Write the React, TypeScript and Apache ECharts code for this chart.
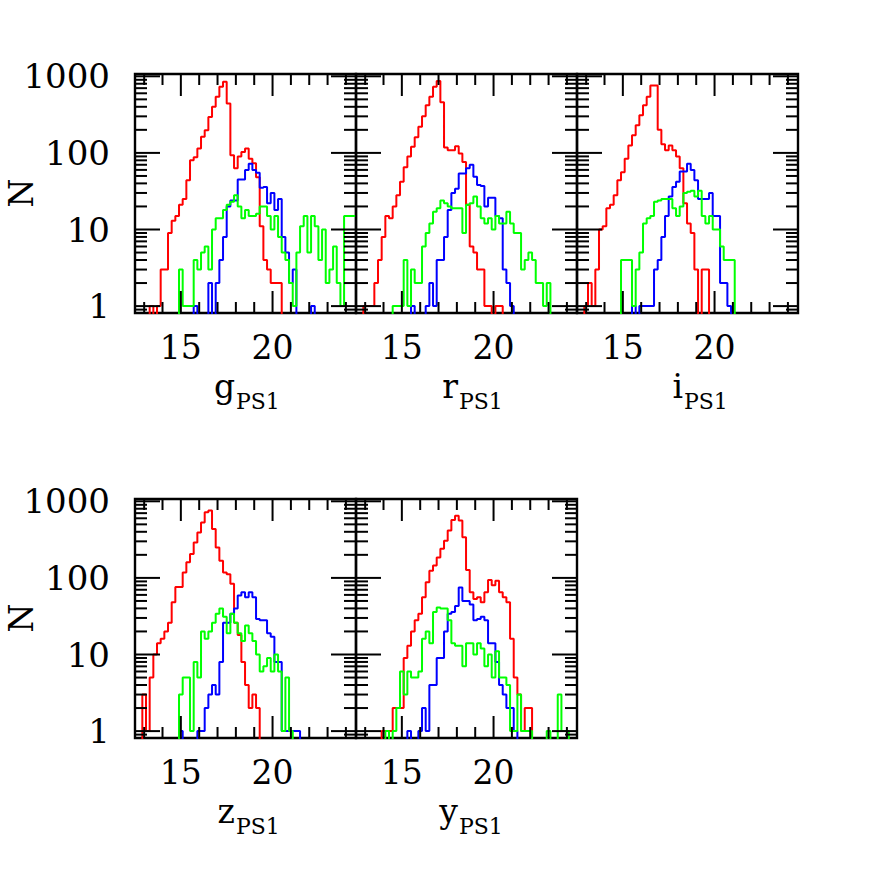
import React, { useEffect, useRef } from "react";
import * as echarts from "echarts";

// ---------------- axis settings ----------------
const X_MIN = 12.5;
const X_MAX = 24.55;
const BIN_WIDTH = 0.2;
const N_BINS = 60;
const LOG_MIN = -0.09;
const LOG_MAX = 3.03;

const X_TICK_LABELS = [15, 20];
const Y_TICK_LABELS = [1, 10, 100, 1000];

// ---------------- data: counts per 0.2 mag bin, starting at bin index *Start ----------------
// g_PS1
const gRedStart = 4;
const gRed = [1, 0, 1, 3, 3, 9, 13, 15, 21, 25, 44, 80, 88, 114, 162, 197, 295, 400, 540, 730, 850, 440, 93, 63, 90, 103, 114, 84, 73, 48, 11, 4, 3, 2, 2, 2];
const gBlueStart = 16;
const gBlue = [1, 0, 0, 0, 2, 0, 2, 4, 8, 20, 24, 24, 45, 45, 60, 72, 60, 55, 35, 36, 22, 30, 18, 25, 8, 5, 2, 3, 0, 0, 0, 0, 1];
const gGreenStart = 12;
const gGreen = [3, 1, 1, 1, 4, 3, 5, 6, 3, 10, 14, 14, 18, 21, 23, 28, 20, 14, 18, 15, 15, 16, 20, 20, 15, 10, 15, 8, 5, 4, 2, 1, 5, 11, 15, 5, 15, 11, 4, 10, 2, 3, 6, 2, 1, 15, 15, 15];

// r_PS1
const rRedStart = 2;
const rRed = [1, 1, 1, 2, 4, 8, 15, 14, 20, 28, 42, 65, 90, 120, 160, 220, 300, 420, 540, 730, 870, 460, 118, 108, 108, 122, 98, 76, 21, 6, 5, 3, 3, 1, 1, 0, 1, 1];
const rBlueStart = 15;
const rBlue = [1, 0, 0, 0, 1, 2, 1, 4, 4, 8, 18, 30, 34, 54, 54, 63, 70, 49, 38, 37, 20, 26, 26, 15, 14, 3, 2, 1];
const rGreenStart = 10;
const rGreen = [1, 1, 1, 4, 1, 3, 2, 2, 6, 9, 12, 17, 19, 24, 22, 20, 19, 19, 19, 9, 21, 22, 27, 20, 14, 12, 14, 10, 15, 12, 12, 17, 12, 9, 9, 3, 4, 5, 4, 2, 2, 1, 2];

// i_PS1
const iRedStart = 2;
const iRed = [1, 2, 1, 3, 10, 11, 19, 21, 28, 44, 56, 84, 125, 170, 230, 310, 420, 540, 760, 760, 200, 130, 108, 125, 108, 90, 63, 22, 12, 9, 3, 0, 3, 3];
const iBlueStart = 15;
const iBlue = [1, 0, 1, 1, 1, 1, 3, 4, 8, 15, 27, 36, 42, 57, 57, 72, 60, 44, 25, 25, 25, 30, 15, 15, 2, 2, 1];
const iGreenStart = 12;
const iGreen = [4, 4, 4, 1, 3, 5, 12, 14, 15, 23, 24, 25, 25, 25, 19, 15, 20, 30, 31, 32, 27, 32, 15, 12, 15, 10, 10, 6, 4, 4, 4];

// z_PS1
const zRedStart = 2;
const zRed = [3, 1, 5, 10, 14, 16, 20, 26, 48, 76, 76, 118, 160, 205, 290, 390, 530, 720, 760, 435, 250, 168, 118, 112, 84, 26, 18, 8, 4, 2, 3, 2];
const zBlueStart = 12;
const zBlue = [1, 0, 0, 0, 0, 1, 1, 2, 3, 4, 3, 8, 26, 26, 34, 40, 59, 65, 56, 65, 56, 29, 28, 28, 19, 17, 8, 8, 1, 1, 1, 1, 1];
const zGreenStart = 12;
const zGreen = [3, 5, 5, 1, 8, 5, 20, 16, 20, 26, 34, 40, 31, 19, 34, 26, 19, 15, 24, 19, 15, 10, 6, 7, 9, 6, 10, 6, 1, 5, 1];

// y_PS1
const yRedStart = 7;
const yRed = [1, 1, 1, 2, 2, 2, 9, 13, 20, 28, 34, 56, 88, 124, 145, 185, 240, 305, 415, 570, 650, 560, 340, 127, 65, 53, 56, 48, 65, 94, 80, 92, 65, 56, 48, 16, 5, 3, 1, 2, 2];
const yBlueStart = 14;
const yBlue = [1, 0, 0, 1, 2, 1, 4, 4, 9, 9, 20, 34, 36, 43, 75, 50, 50, 45, 28, 29, 31, 28, 14, 14, 8, 4, 3, 2, 2, 1];
const yGreenStart = 8;
const yGreen = [1, 0, 1, 2, 6, 3, 6, 5, 5, 6, 16, 20, 14, 36, 41, 40, 40, 28, 14, 13, 13, 7, 14, 14, 10, 14, 12, 7, 10, 5, 11, 5, 5, 4, 1, 1, 3, 1, 1, 1, 0, 0, 0, 0, 1, 0, 0, 3, 1, 1];

const BANDS = ["g", "r", "i", "z", "y"];
const SUBSCRIPT = "PS1";
const Y_NAME = "N";

const COLORS = { red: "#ff0000", blue: "#0000ff", green: "#00ff00" };

// ---------------- layout ----------------
const GRID_POS = [
  { left: 135, top: 74 },
  { left: 356, top: 74 },
  { left: 577, top: 74 },
  { left: 135, top: 499 },
  { left: 356, top: 499 },
];
const GRID_W = 221;
const GRID_H = 239;
const FONT = '"DejaVu Serif", serif';

function toLog(c: number) {
  return c > 0 ? Math.log10(c) : -1;
}

function histData(start: number, counts: number[]) {
  const full: number[] = new Array(N_BINS).fill(0);
  counts.forEach((c, i) => {
    if (start + i < N_BINS) full[start + i] = c;
  });
  const pts = full.map((c, k) => [X_MIN + k * BIN_WIDTH, toLog(c)]);
  pts.push([X_MIN + N_BINS * BIN_WIDTH, toLog(full[N_BINS - 1])]);
  return pts;
}

const PANELS = [
  { red: [gRedStart, gRed], blue: [gBlueStart, gBlue], green: [gGreenStart, gGreen] },
  { red: [rRedStart, rRed], blue: [rBlueStart, rBlue], green: [rGreenStart, rGreen] },
  { red: [iRedStart, iRed], blue: [iBlueStart, iBlue], green: [iGreenStart, iGreen] },
  { red: [zRedStart, zRed], blue: [zBlueStart, zBlue], green: [zGreenStart, zGreen] },
  { red: [yRedStart, yRed], blue: [yBlueStart, yBlue], green: [yGreenStart, yGreen] },
] as any[];

// tick marks (axis structure): [value, kind(0 = x, 1 = y), length]
function buildTicks() {
  const t: number[][] = [];
  for (let v = Math.ceil(X_MIN); v <= Math.floor(X_MAX); v++) t.push([v, 0, v % 5 === 0 ? 22 : 11]);
  for (let d = -1; d <= 3; d++) {
    for (let m = 1; m <= 9; m++) {
      const L = d + Math.log10(m);
      if (L > LOG_MIN && L < LOG_MAX) t.push([L, 1, m === 1 ? 25 : 12]);
    }
  }
  return t;
}

const TITLE_POS = [
  { x: 235, y: 403 },
  { x: 458, y: 403 },
  { x: 683, y: 403 },
  { x: 235, y: 828 },
  { x: 458, y: 828 },
];
const N_POS = [
  { x: 21, y: 193 },
  { x: 21, y: 618 },
];

export default function App() {
  const ref = useRef<HTMLDivElement>(null);
  useEffect(() => {
    if (!ref.current) return;
    const chart = echarts.init(ref.current, undefined, { renderer: "svg" });
    const ticks = buildTicks();

    const grid = GRID_POS.map((p) => ({
      left: p.left,
      top: p.top,
      width: GRID_W,
      height: GRID_H,
      show: true,
      borderColor: "#000",
      borderWidth: 2.4,
      backgroundColor: "transparent",
      containLabel: false,
    }));

    const xAxis = GRID_POS.map((_, i) => ({
      type: "value",
      gridIndex: i,
      min: X_MIN,
      max: X_MAX,
      axisLine: { show: false },
      axisTick: { show: false },
      splitLine: { show: false },
      axisLabel: {
        show: true,
        customValues: X_TICK_LABELS,
        color: "#000",
        fontFamily: FONT,
        fontSize: 33,
        margin: 18,
      },
    }));

    const yAxis = GRID_POS.map((_, i) => {
      const showLabels = i === 0 || i === 3;
      return {
        type: "value",
        gridIndex: i,
        min: LOG_MIN,
        max: LOG_MAX,
        axisLine: { show: false },
        axisTick: { show: false },
        splitLine: { show: false },
        axisLabel: {
          show: showLabels,
          customValues: Y_TICK_LABELS.map((v) => Math.log10(v)),
          formatter: (v: number) => String(Math.round(Math.pow(10, v))),
          color: "#000",
          fontFamily: FONT,
          fontSize: 34,
          margin: 25,
        },
      };
    });

    const series: any[] = [];
    PANELS.forEach((p, i) => {
      (["red", "blue", "green"] as const).forEach((c) => {
        series.push({
          type: "line",
          xAxisIndex: i,
          yAxisIndex: i,
          step: "end",
          showSymbol: false,
          symbol: "none",
          clip: true,
          lineStyle: { color: COLORS[c], width: 2 },
          itemStyle: { color: COLORS[c] },
          data: histData(p[c][0], p[c][1]),
          z: 2,
        });
      });
      series.push({
        type: "custom",
        xAxisIndex: i,
        yAxisIndex: i,
        z: 3,
        silent: true,
        data: ticks,
        encode: { x: 0 },
        renderItem: (params: any, api: any) => {
          const v = api.value(0);
          const kind = api.value(1);
          const len = api.value(2);
          const st = { stroke: "#000", lineWidth: 2 };
          if (kind === 0) {
            const b = api.coord([v, LOG_MIN]);
            const t = api.coord([v, LOG_MAX]);
            return {
              type: "group",
              children: [
                { type: "line", shape: { x1: b[0], y1: b[1], x2: b[0], y2: b[1] - len }, style: st },
                { type: "line", shape: { x1: t[0], y1: t[1], x2: t[0], y2: t[1] + len }, style: st },
              ],
            };
          }
          const l = api.coord([X_MIN, v]);
          const r = api.coord([X_MAX, v]);
          return {
            type: "group",
            children: [
              { type: "line", shape: { x1: l[0], y1: l[1], x2: l[0] + len, y2: l[1] }, style: st },
              { type: "line", shape: { x1: r[0], y1: r[1], x2: r[0] - len, y2: r[1] }, style: st },
            ],
          };
        },
      });
    });

    const graphic: any[] = [];
    BANDS.forEach((b, i) => {
      const p = TITLE_POS[i];
      graphic.push({
        type: "text",
        x: p.x,
        y: p.y,
        style: { text: b, font: `33px ${FONT}`, fill: "#000", align: "right", verticalAlign: "bottom" },
      });
      graphic.push({
        type: "text",
        x: p.x + 1,
        y: p.y + 9,
        style: { text: SUBSCRIPT, font: `22px ${FONT}`, fill: "#000", align: "left", verticalAlign: "bottom" },
      });
    });
    N_POS.forEach((p) => {
      graphic.push({
        type: "text",
        x: p.x,
        y: p.y,
        rotation: Math.PI / 2,
        style: { text: Y_NAME, font: `33px ${FONT}`, fill: "#000", align: "center", verticalAlign: "middle" },
      });
    });

    chart.setOption({
      animation: false,
      backgroundColor: "#fff",
      grid,
      xAxis,
      yAxis,
      series,
      graphic,
    });
    return () => chart.dispose();
  }, []);

  return (
    <div
      ref={ref}
      style={{ position: "absolute", left: 0, top: 0, width: 872, height: 872, background: "#fff" }}
    />
  );
}
